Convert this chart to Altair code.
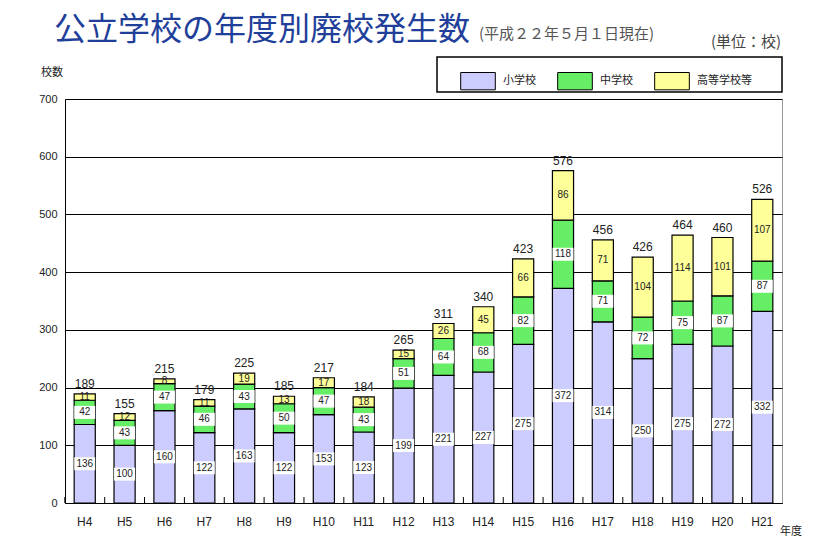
import altair as alt
import pandas as pd

# 年度別の廃校発生数（校）
years = ["H4", "H5", "H6", "H7", "H8", "H9", "H10", "H11", "H12",
         "H13", "H14", "H15", "H16", "H17", "H18", "H19", "H20", "H21"]
elementary = [136, 100, 160, 122, 163, 122, 153, 123, 199,
              221, 227, 275, 372, 314, 250, 275, 272, 332]
junior_high = [42, 43, 47, 46, 43, 50, 47, 43, 51,
               64, 68, 82, 118, 71, 72, 75, 87, 87]
high_etc = [11, 12, 8, 11, 19, 13, 17, 18, 15,
            26, 45, 66, 86, 71, 104, 114, 101, 107]

categories = ["小学校", "中学校", "高等学校等"]
colors = ["#ccccff", "#66ee66", "#ffff99"]

rows = []
for i, y in enumerate(years):
    for k, (cat, series) in enumerate(zip(categories, [elementary, junior_high, high_etc])):
        rows.append({"year": y, "category": cat, "value": series[i], "order": k})
df = pd.DataFrame(rows)

JP = "Noto Sans CJK JP"
NUM = "Liberation Sans"

x_enc = alt.X("year:N", sort=years, title=None,
              scale=alt.Scale(paddingInner=0.47, paddingOuter=0.23),
              axis=alt.Axis(labelAngle=0, labelFont=NUM, labelFontSize=12,
                            labelColor="#222", labelPadding=13, ticks=False,
                            domainColor="black", domainWidth=1))
y_scale = alt.Scale(domain=[0, 700])

base = alt.Chart(df).transform_stack(
    stack="value", as_=["y0", "y1"], groupby=["year"],
    sort=[alt.SortField("order", order="ascending")]
).transform_calculate(mid="(datum.y0 + datum.y1) / 2")

bars = base.mark_bar(stroke="black", strokeWidth=1.2).encode(
    x=x_enc,
    y=alt.Y("y0:Q", scale=y_scale, title=None,
            axis=alt.Axis(values=list(range(0, 701, 100)), ticks=False,
                          labelFont=NUM, labelFontSize=11, labelColor="#222",
                          labelPadding=8, grid=True, gridColor="black",
                          gridWidth=1, domainColor="black")),
    y2="y1:Q",
    color=alt.Color("category:N", sort=categories,
                    scale=alt.Scale(domain=categories, range=colors),
                    legend=alt.Legend(
                        title=None, orient="none", direction="horizontal",
                        columns=3, legendX=395, legendY=-36,
                        symbolType="M-1,-0.5H1V0.5H-1Z", symbolSize=1200,
                        symbolStrokeColor="black", symbolStrokeWidth=1,
                        labelFont=JP, labelFontSize=11, labelColor="#222",
                        labelOffset=7, columnPadding=19)),
    order=alt.Order("order:Q"),
)

boxed = base.transform_filter(alt.datum.order < 2)

label_boxes = boxed.mark_point(
    shape="M-1,-0.62H1V0.62H-1Z", filled=True, fill="white", opacity=1,
    size=440, strokeWidth=0
).encode(x=alt.X("year:N", sort=years), y=alt.Y("mid:Q", scale=y_scale))

label_text = base.mark_text(font=NUM, fontSize=10, color="#222").encode(
    x=alt.X("year:N", sort=years), y=alt.Y("mid:Q", scale=y_scale),
    text="value:Q")

totals = alt.Chart(df).transform_aggregate(
    total="sum(value)", groupby=["year"]
).mark_text(font=NUM, fontSize=12, color="#222", dy=-10).encode(
    x=alt.X("year:N", sort=years), y=alt.Y("total:Q", scale=y_scale),
    text="total:Q")

# small boundary ticks along the bottom axis
band_ticks = alt.Chart(pd.DataFrame({"year": years})).mark_rule(
    color="black", strokeWidth=1, xOffset=-19.9
).encode(x=alt.X("year:N", sort=years), y=alt.value(398), y2=alt.value(404))

one = pd.DataFrame({"k": [0]})

def label(text, x, y, size, color="#222", font=JP, align="left", weight="normal"):
    return alt.Chart(one).mark_text(
        text=text, font=font, fontSize=size, color=color, align=align,
        baseline="middle", fontWeight=weight
    ).encode(x=alt.value(x), y=alt.value(y))

title = label("公立学校の年度別廃校発生数", -11, -69, 32, color="#1f3f9a")
subtitle = label("(平成２２年５月１日現在)", 414, -65, 15, color="#555")
unit = label("(単位：校)", 646, -57, 15, color="#444")
y_title = label("校数", -13, -26, 11, align="center")
x_title = label("年度", 726, 433, 11, align="center")

legend_frame = alt.Chart(one).mark_rect(
    fill="white", stroke="black", strokeWidth=1.5
).encode(x=alt.value(372), x2=alt.value(717), y=alt.value(-42), y2=alt.value(-7))

chart = alt.layer(
    legend_frame, bars, band_ticks, label_boxes, label_text, totals,
    title, subtitle, unit, y_title, x_title
).properties(
    width=717, height=404,
    autosize=alt.AutoSizeParams(type="none"),
    padding={"left": 65, "top": 99, "right": 56, "bottom": 45},
    background="white",
).configure_view(stroke="#999", strokeWidth=1)

chart.save("out.html", embed_options={"renderer": "svg", "actions": False})
